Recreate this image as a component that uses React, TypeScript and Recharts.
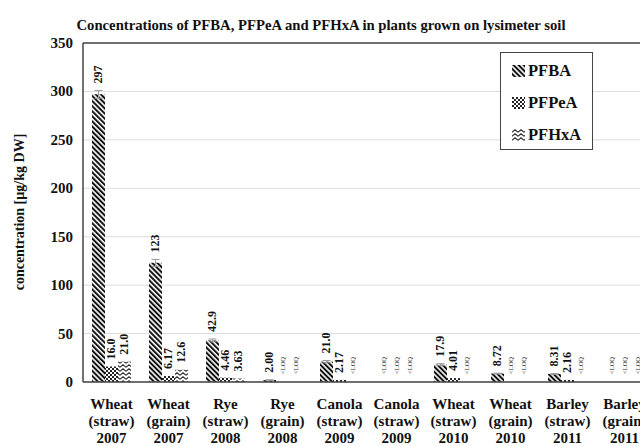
import {
  BarChart,
  Bar,
  XAxis,
  YAxis,
  CartesianGrid,
  ReferenceLine,
  LabelList,
  ErrorBar,
} from "recharts";

const crops = ["Wheat", "Wheat", "Rye", "Rye", "Canola", "Canola", "Wheat", "Wheat", "Barley", "Barley"];
const parts = ["(straw)", "(grain)", "(straw)", "(grain)", "(straw)", "(straw)", "(straw)", "(grain)", "(straw)", "(grain)"];
const years = ["2007", "2007", "2008", "2008", "2009", "2009", "2010", "2010", "2011", "2011"];

// null means <LOQ
const pfba = [297, 123, 42.9, 2.0, 21.0, null, 17.9, 8.72, 8.31, null];
const pfpea = [16.0, 6.17, 4.46, null, 2.17, null, 4.01, null, 2.16, null];
const pfhxa = [21.0, 12.6, 3.63, null, null, null, null, null, null, null];
const pfbaErr = [4, 3.5, 1.5, 0.3, 1.2, 0, 1, 0.4, 0.4, 0];

const yTicks = [0, 50, 100, 150, 200, 250, 300, 350];

const fmt = (v: number | null) => (v == null ? "<LOQ" : v.toPrecision(3));

const data = crops.map((c, i) => ({
  name: `${c} ${parts[i]} ${years[i]}`,
  PFBA: pfba[i] ?? 0,
  PFPeA: pfpea[i] ?? 0,
  PFHxA: pfhxa[i] ?? 0,
  err: pfbaErr[i],
  // label text carries the error size so the label can sit above the whisker
  lblPFBA: `${fmt(pfba[i])}|${pfbaErr[i]}`,
  lblPFPeA: `${fmt(pfpea[i])}|0`,
  lblPFHxA: `${fmt(pfhxa[i])}|0`,
}));

const FONT = "'Liberation Serif', 'Times New Roman', serif";
const PX_PER_UNIT = 339 / 350;

const renderLabel = (props: any) => {
  const { x, y, width, height, value } = props;
  const [txt, errStr] = String(value).split("|");
  const cx = Number(x) + Number(width) / 2;
  const top = Math.min(Number(y), Number(y) + Number(height));
  if (txt === "<LOQ") {
    const ty = top - 8;
    return (
      <text
        x={cx}
        y={ty}
        transform={`rotate(-90 ${cx} ${ty})`}
        textAnchor="start"
        dominantBaseline="central"
        fontFamily={FONT}
        fontSize={6.5}
        fill="#1a1a1a"
      >
        {txt}
      </text>
    );
  }
  const e = Number(errStr) * PX_PER_UNIT;
  const ty = top - e - 7;
  return (
    <text
      x={cx}
      y={ty}
      transform={`rotate(-90 ${cx} ${ty})`}
      textAnchor="start"
      dominantBaseline="central"
      fontFamily={FONT}
      fontWeight="bold"
      fontSize={12}
      fill="#111"
    >
      {txt}
    </text>
  );
};

const XTick = ({ x, y, payload }: any) => {
  const i = payload.index;
  return (
    <text x={x} y={y} textAnchor="middle" fontFamily={FONT} fontWeight="bold" fontSize={15} fill="#111">
      <tspan x={x} dy={19}>{crops[i]}</tspan>
      <tspan x={x} dy={17.2}>{parts[i]}</tspan>
      <tspan x={x} dy={17.2}>{years[i]}</tspan>
    </text>
  );
};

const YTick = ({ x, y, payload }: any) => (
  <text x={x - 2} y={y} dy={5} textAnchor="end" fontFamily={FONT} fontWeight="bold" fontSize={15} fill="#111">
    {payload.value}
  </text>
);

const Swatch = ({ id }: { id: string }) => (
  <svg width={13} height={12} style={{ display: "block" }}>
    <rect width={13} height={12} fill={`url(#${id})`} />
  </svg>
);

const legendItems = [
  { id: "pat-pfba", label: "PFBA" },
  { id: "pat-pfpea", label: "PFPeA" },
  { id: "pat-pfhxa", label: "PFHxA" },
];

export default function App() {
  return (
    <div
      style={{
        position: "absolute",
        left: 0,
        top: 0,
        width: 640,
        height: 446,
        overflow: "hidden",
        background: "#fff",
        fontFamily: FONT,
      }}
    >
      <div
        style={{
          position: "absolute",
          left: 0,
          width: 642,
          top: 17,
          textAlign: "center",
          fontSize: 14.7,
          lineHeight: "17px",
          fontWeight: "bold",
          color: "#111",
          whiteSpace: "nowrap",
        }}
      >
        Concentrations of PFBA, PFPeA and PFHxA in plants grown on lysimeter soil
      </div>
      <div
        style={{
          position: "absolute",
          left: 20,
          top: 212,
          transform: "translate(-50%, -50%) rotate(-90deg)",
          fontSize: 14,
          fontWeight: "bold",
          color: "#111",
          whiteSpace: "nowrap",
        }}
      >
        concentration [µg/kg DW]
      </div>
      <BarChart
        width={653}
        height={446}
        data={data}
        margin={{ top: 43, right: 0, left: 0, bottom: 0 }}
        barGap={0}
        barSize={13}
      >
        <defs>
          <pattern id="pat-pfba" width={3.6} height={3.6} patternUnits="userSpaceOnUse" patternTransform="rotate(-45)">
            <rect width={3.6} height={3.6} fill="#fff" />
            <rect width={2} height={3.6} fill="#111" />
          </pattern>
          <pattern id="pat-pfpea" width={4} height={4} patternUnits="userSpaceOnUse">
            <rect width={4} height={4} fill="#fff" />
            <rect width={2} height={2} fill="#222" />
            <rect x={2} y={2} width={2} height={2} fill="#222" />
          </pattern>
          <pattern id="pat-pfhxa" width={6} height={4} patternUnits="userSpaceOnUse">
            <rect width={6} height={4} fill="#fff" />
            <path d="M0 3.2 L3 0.8 L6 3.2" fill="none" stroke="#333" strokeWidth={1.1} />
          </pattern>
        </defs>
        <CartesianGrid vertical={false} stroke="#dcdcdc" />
        <XAxis
          dataKey="name"
          height={64}
          axisLine={{ stroke: "#444", strokeWidth: 1.5 }}
          tickLine={false}
          interval={0}
          tick={<XTick />}
        />
        <YAxis
          width={83}
          domain={[0, 350]}
          ticks={yTicks}
          axisLine={{ stroke: "#444", strokeWidth: 1.5 }}
          tickLine={false}
          tick={<YTick />}
        />
        <ReferenceLine y={350} stroke="#444" strokeWidth={1.5} />
        <Bar dataKey="PFBA" fill="url(#pat-pfba)" minPointSize={0.01} isAnimationActive={false}>
          <ErrorBar dataKey="err" stroke="#999" width={4} strokeWidth={1} />
          <LabelList dataKey="lblPFBA" content={renderLabel} />
        </Bar>
        <Bar dataKey="PFPeA" fill="url(#pat-pfpea)" minPointSize={0.01} isAnimationActive={false}>
          <LabelList dataKey="lblPFPeA" content={renderLabel} />
        </Bar>
        <Bar dataKey="PFHxA" fill="url(#pat-pfhxa)" minPointSize={0.01} isAnimationActive={false}>
          <LabelList dataKey="lblPFHxA" content={renderLabel} />
        </Bar>
      </BarChart>
      <div
        style={{
          position: "absolute",
          left: 500,
          top: 52,
          width: 91,
          height: 96,
          border: "1px solid #444",
          background: "#fff",
        }}
      >
        {legendItems.map((it, k) => (
          <div
            key={it.id}
            style={{
              position: "absolute",
              left: 11,
              top: 9 + k * 32,
              display: "flex",
              alignItems: "center",
              gap: 3,
              fontSize: 16.5,
              fontWeight: "bold",
              color: "#111",
              lineHeight: "18px",
            }}
          >
            <Swatch id={it.id} />
            <span>{it.label}</span>
          </div>
        ))}
      </div>
    </div>
  );
}
